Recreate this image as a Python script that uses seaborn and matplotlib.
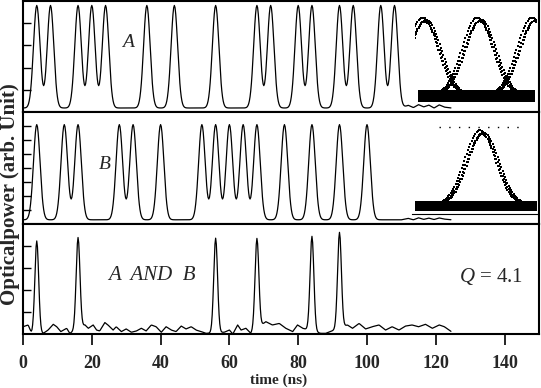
import numpy as np
import pandas as pd
import seaborn as sns
import matplotlib.pyplot as plt

# ---------------- data ----------------
x_ticks = [0, 20, 40, 60, 80, 100, 120, 140]
peaks_a = [4, 8, 16, 20, 24, 36, 44, 56, 68, 72, 80, 84, 92, 96, 104, 108]
peaks_b = [4, 12, 16, 28, 32, 40, 52, 56, 60, 64, 68, 76, 84, 92, 100]
peaks_and = [4, 16, 56, 68, 84, 92]
heights_and = [4.2, 4.15, 4.3, 4.1, 4.3, 4.35]
amp_a, base_a = 4.62, 0.18
amp_b, base_b = 6.8, 0.3
width_ab, width_and = 0.95, 0.55
trace_end = 124.6

noise_t = [0, 1.5, 2.5, 5.9, 7.3, 8.8, 9.8, 11, 12.7, 13.6, 18, 19, 20.4, 21.4,
           22.3, 23.8, 24.7, 26.2, 27.1, 28.6, 30, 31.5, 33, 34.4, 35.8, 37.3,
           38.7, 40.2, 41.6, 43.1, 44.5, 46, 47.4, 48.9, 50.3, 51.8, 53.2, 58.5,
           60, 61, 62.4, 63.4, 64.8, 66.2, 70.6, 72.5, 74.5, 76.4, 78.4, 79.8,
           81.3, 86.5, 88, 94.3, 95.8, 97.7, 99.6, 101.5, 103.5, 105.4, 107.3,
           109.3, 111.2, 113.1, 115, 117, 119, 121, 122.5, 124.5]
noise_v = [0.33, 0.41, 0.03, 0.03, 0.18, 0.44, 0.33, 0.11, 0.26, 0.03, 0.41, 0.26,
           0.41, 0.18, 0.14, 0.52, 0.41, 0.18, 0.33, 0.11, 0.23, 0.08, 0.14, 0.26,
           0.14, 0.41, 0.33, 0.08, 0.33, 0.18, 0.11, 0.36, 0.23, 0.33, 0.18, 0.11,
           0.03, 0.08, 0.18, 0.0, 0.41, 0.18, 0.26, 0.03, 0.56, 0.41, 0.48, 0.26,
           0.11, 0.41, 0.26, 0.03, 0.03, 0.41, 0.26, 0.48, 0.23, 0.33, 0.41, 0.18,
           0.33, 0.18, 0.36, 0.41, 0.33, 0.44, 0.26, 0.41, 0.33, 0.11]

# small wiggles on the tails of the A and B traces
tail_t = [110, 112, 113.5, 115, 116.5, 118, 119.5, 121, 122.5, 124.6]
tail_a = [0.0, 0.12, 0.02, 0.15, 0.05, 0.13, 0.0, 0.14, 0.04, 0.0]
tail_b = [0.0, 0.1, 0.0, 0.14, 0.03, 0.12, 0.02, 0.13, 0.05, 0.0]

# eye diagrams (inset units: ns in window, normalised power)
eye_a_centres = [0.7, 4.7, 8.7]
eye_b_centres = [5.1]
eye_shifts = [-0.15, 0.0, 0.12]
eye_scales = [1.0, 0.95, 0.97]
eye_sigma = 1.12
eye_base, eye_amp = 0.08, 0.87
eye_band = (0.012, 0.145)
eye_b_base, eye_b_amp = 0.1, 0.84
eye_b_band = (0.035, 0.145)

# ---------------- build tables ----------------
t = np.arange(0, trace_end, 0.2)


def pulses(centres, amps, sigma):
    y = np.zeros_like(t)
    for c, a in zip(centres, amps):
        y += a * np.exp(-(t - c) ** 2 / (2 * sigma ** 2))
    return y


tail_mask = t >= tail_t[0]
df = pd.DataFrame({
    "t": t,
    "A": base_a + pulses(peaks_a, [amp_a] * len(peaks_a), width_ab)
    + np.where(tail_mask, np.interp(t, tail_t, tail_a), 0),
    "B": base_b + pulses(peaks_b, [amp_b] * len(peaks_b), width_ab)
    + np.where(tail_mask, np.interp(t, tail_t, tail_b), 0),
    "AND": np.interp(t, noise_t, noise_v) + pulses(peaks_and, heights_and, width_and),
})


def eye_table(centres, base, amp, xmax):
    rows = []
    k = 0
    for c in centres:
        for s, sc in zip(eye_shifts, eye_scales):
            tt = np.arange(max(0, c - 4), min(xmax, c + 4), 0.09)
            yy = base + amp * sc * np.exp(-(tt - c - s) ** 2 / (2 * eye_sigma ** 2))
            for a, b in zip(tt, yy):
                rows.append((k, a, b))
            k += 1
    return pd.DataFrame(rows, columns=["trace", "t", "p"])


# ---------------- figure ----------------
sns.set_theme(style="white")
plt.rcParams["font.family"] = ["Liberation Serif", "DejaVu Serif"]
plt.rcParams["mathtext.fontset"] = "custom"
plt.rcParams["mathtext.rm"] = "Liberation Serif"
plt.rcParams["mathtext.it"] = "Liberation Serif:italic"

W, H = 541, 388
fig = plt.figure(figsize=(W / 100, H / 100), dpi=100)


def px_axes(x0, y0, x1, y1):
    return fig.add_axes([x0 / W, 1 - y1 / H, (x1 - x0) / W, (y1 - y0) / H])


ax1 = px_axes(23, 1, 539, 112)
ax2 = px_axes(23, 112, 539, 224)
ax3 = px_axes(23, 224, 539, 334)

for ax, col, ylim, yt in [(ax1, "A", 5, [1, 2, 3, 4]),
                          (ax2, "B", 8, [1, 2, 3, 4, 5, 6, 7]),
                          (ax3, "AND", 5, [1, 2, 3, 4])]:
    sns.lineplot(data=df, x="t", y=col, ax=ax, color="black", lw=0.9,
                 estimator=None, sort=False)
    ax.set_xlim(0, 150)
    ax.set_ylim(0, ylim)
    ax.set_yticks(yt)
    ax.set_yticklabels([])
    ax.set_xticks(x_ticks)
    ax.set_xlabel("")
    ax.set_ylabel("")
    ax.tick_params(axis="y", direction="in", length=6, width=1, left=True,
                   right=False, color="black")
    for sp in ax.spines.values():
        sp.set_linewidth(1.5)
        sp.set_color("black")

for ax in (ax1, ax2):
    ax.tick_params(axis="x", bottom=False, labelbottom=False)
ax3.tick_params(axis="x", direction="out", length=8, width=1.2, bottom=True,
                labelsize=13, pad=7, color="black")
for lab in ax3.get_xticklabels():
    lab.set_fontweight("bold")

ax1.text(30.4, 3.15, "A", fontsize=14, style="italic", ha="center", va="center")
ax2.text(23.8, 4.24, "B", fontsize=14, style="italic", ha="center", va="center")
ax3.text(37.5, 2.68, "A  AND  B", fontsize=15, style="italic", ha="center",
         va="center")
ax3.text(136.2, 2.6, r"$Q$ = 4.1", fontsize=15, ha="center", va="center")

fig.text(10 / W, 1 - 194 / H, "Opticalpower (arb. Unit)", rotation=90,
         fontsize=15, fontweight="bold", ha="center", va="center")
fig.text(279 / W, 1 - 387 / H, "time (ns)", fontsize=11, fontweight="bold",
         ha="center", va="bottom")

# ---- eye diagram inset for A ----
ins1 = px_axes(415, 13, 537, 103)
ins1.axis("off")
ins1.fill_between([0.22, 8.75], eye_band[0], eye_band[1], color="black", lw=0)
sns.scatterplot(data=eye_table(eye_a_centres, eye_base, eye_amp, 8.9), x="t",
                y="p", ax=ins1, color="black", marker="s", s=3, linewidth=0,
                legend=False)
ins1.set_xlim(0, 8.9)
ins1.set_ylim(0, 1)
ins1.set_xlabel("")
ins1.set_ylabel("")

# ---- eye diagram inset for B ----
ins2 = px_axes(412, 125, 537, 214)
ins2.set_xticks([])
ins2.set_yticks([])
for name, sp in ins2.spines.items():
    sp.set_visible(name == "bottom")
ins2.spines["bottom"].set_linewidth(0.8)
ins2.spines["bottom"].set_color("black")
ins2.patch.set_alpha(0)
ins2.fill_between([0.22, 9.1], eye_b_band[0], eye_b_band[1], color="black", lw=0)
ins2.hlines(0.978, 2.0, 8.25, color="black", lw=1, linestyles=(0, (1, 6)))
sns.scatterplot(data=eye_table(eye_b_centres, eye_b_base, eye_b_amp, 9.1), x="t",
                y="p", ax=ins2, color="black", marker="s", s=3, linewidth=0,
                legend=False)
ins2.set_xlim(0, 9.1)
ins2.set_ylim(0, 1)
ins2.set_xticks([])
ins2.set_yticks([])
ins2.set_xlabel("")
ins2.set_ylabel("")

fig.savefig("out.png", dpi=100)
